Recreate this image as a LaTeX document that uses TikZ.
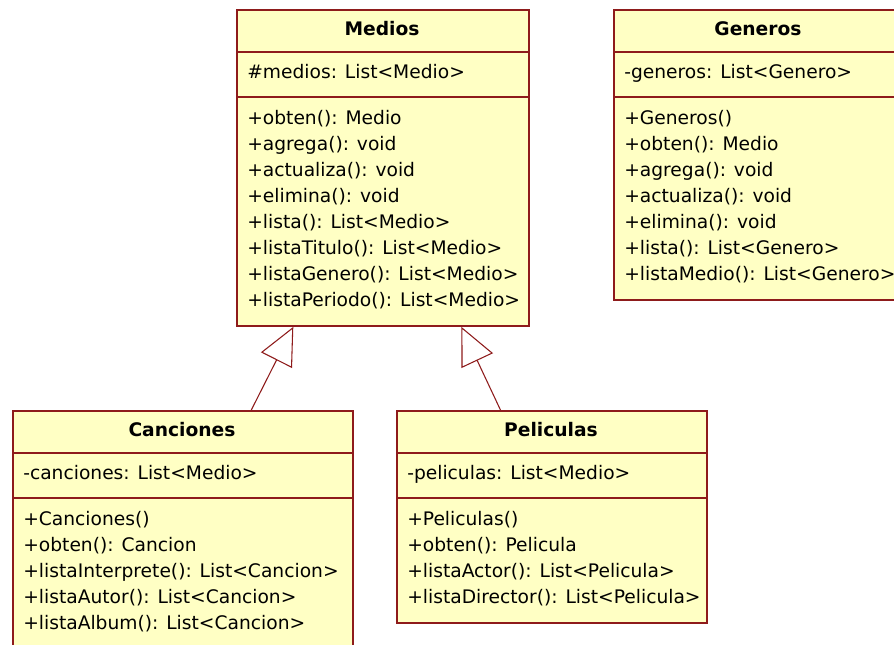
\documentclass[tikz,border=0pt]{standalone}
\usepackage{fontspec}
\setmainfont{DejaVu Sans}
\usetikzlibrary{arrows.meta,calc}
\definecolor{umlborder}{HTML}{8E1B1B}
\definecolor{umlfill}{HTML}{FFFFC4}

\begin{document}
\begin{tikzpicture}[x=0.75pt,y=-0.75pt,
  box/.style={draw=umlborder, fill=umlfill, line width=1.4pt, rectangle,
    inner sep=0pt, anchor=north west},
  sep/.style={draw=umlborder, line width=1.4pt},
  ttl/.style={font=\fontsize{14}{16}\selectfont\bfseries, anchor=base, inner sep=0pt},
  txt/.style={font=\fontsize{14}{16}\selectfont, anchor=base west, inner sep=0pt},
  gen/.style={draw=umlborder, line width=0.8pt,
    -{Triangle[open, length=28pt, width=26pt]}},
]
\useasboundingbox (0,0) rectangle (894,645);
\clip (0,0) rectangle (894,645);
\fill[white] (0,0) rectangle (894,645);

% ---- Medios ----
\node[box, minimum width=219pt, minimum height=237pt] (medios) at (236,9) {};
\draw[sep] (medios.west |- 0,52) -- (medios.east |- 0,52);
\draw[sep] (medios.west |- 0,97) -- (medios.east |- 0,97);
\node[ttl] (medios-name) at (382,36) {Medios};
\node[txt] (medios-attr) at (247,79) {\#medios: List<Medio>};
\foreach \t [count=\i] in {+obten(): Medio, +agrega(): void, +actualiza(): void,
    +elimina(): void, +lista(): List<Medio>, +listaTitulo(): List<Medio>,
    +listaGenero(): List<Medio>, +listaPeriodo(): List<Medio>}
  \node[txt] (medios-m\i) at (247,{125+26*(\i-1)}) {\t};

% ---- Generos ----
\node[box, minimum width=217.5pt, minimum height=217.5pt] (generos) at (613,9) {};
\draw[sep] (generos.west |- 0,52) -- (generos.east |- 0,52);
\draw[sep] (generos.west |- 0,97) -- (generos.east |- 0,97);
\node[ttl] (generos-name) at (758,36) {Generos};
\node[txt] (generos-attr) at (624,79) {-generos: List<Genero>};
\foreach \t [count=\i] in {+Generos(), +obten(): Medio, +agrega(): void,
    +actualiza(): void, +elimina(): void, +lista(): List<Genero>,
    +listaMedio(): List<Genero>}
  \node[txt] (generos-m\i) at (624,{125+26*(\i-1)}) {\t};

% ---- Canciones ----
\node[box, minimum width=255pt, minimum height=180pt] (canciones) at (12,410) {};
\draw[sep] (canciones.west |- 0,453) -- (canciones.east |- 0,453);
\draw[sep] (canciones.west |- 0,498) -- (canciones.east |- 0,498);
\node[ttl] (canciones-name) at (182,437) {Canciones};
\node[txt] (canciones-attr) at (23,480) {-canciones: List<Medio>};
\foreach \t [count=\i] in {+Canciones(), +obten(): Cancion,
    +listaInterprete(): List<Cancion>, +listaAutor(): List<Cancion>,
    +listaAlbum(): List<Cancion>}
  \node[txt] (canciones-m\i) at (23,{526+26*(\i-1)}) {\t};

% ---- Peliculas ----
\node[box, minimum width=232.5pt, minimum height=159pt] (peliculas) at (396,410) {};
\draw[sep] (peliculas.west |- 0,453) -- (peliculas.east |- 0,453);
\draw[sep] (peliculas.west |- 0,498) -- (peliculas.east |- 0,498);
\node[ttl] (peliculas-name) at (551,437) {Peliculas};
\node[txt] (peliculas-attr) at (407,480) {-peliculas: List<Medio>};
\foreach \t [count=\i] in {+Peliculas(), +obten(): Pelicula,
    +listaActor(): List<Pelicula>, +listaDirector(): List<Pelicula>}
  \node[txt] (peliculas-m\i) at (407,{526+26*(\i-1)}) {\t};

% ---- generalizations ----
\draw[gen] ($(canciones.north west)!0.7!(canciones.north east)$)
  -- ($(medios.south west)!0.195!(medios.south east)$);
\draw[gen] ($(peliculas.north west)!0.335!(peliculas.north east)$)
  -- ($(medios.south west)!0.767!(medios.south east)$);
\end{tikzpicture}
\end{document}
